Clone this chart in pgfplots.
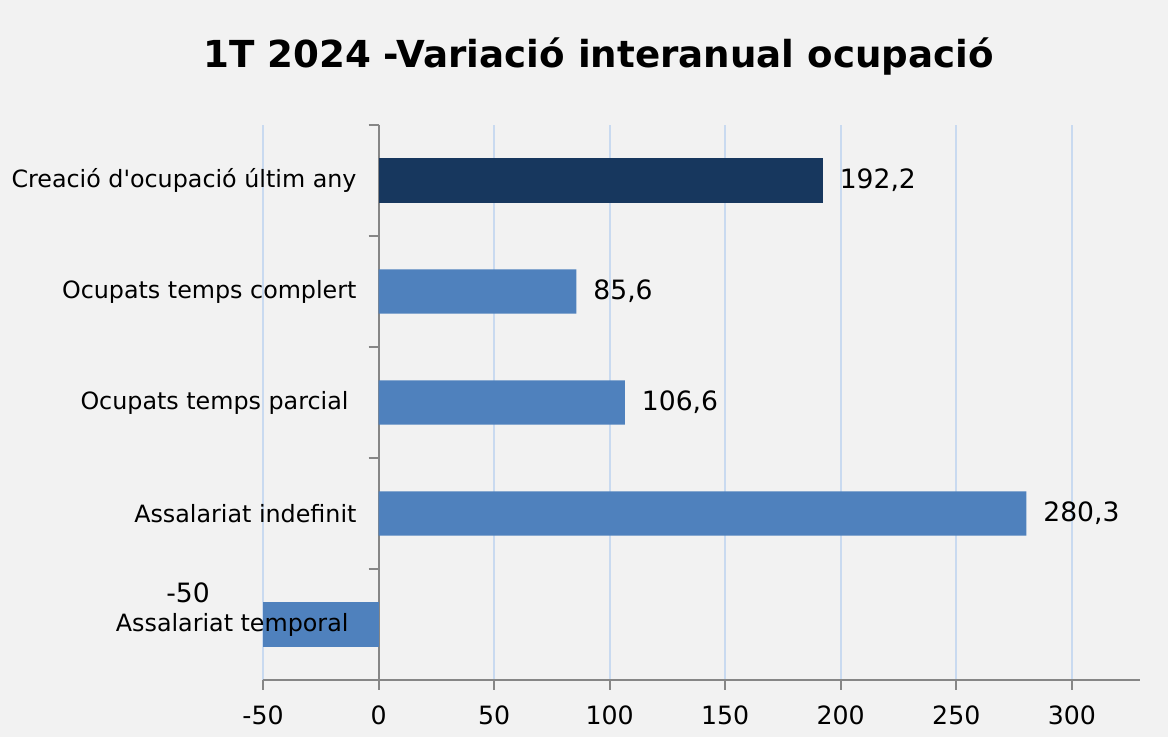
\documentclass[border=0pt]{standalone}
\usepackage{pgfplots}
\pgfplotsset{compat=1.18}
\usepackage{fontspec}
\setmainfont{DejaVu Sans}
\definecolor{bg}{HTML}{F2F2F2}
\definecolor{navy}{HTML}{17375E}
\definecolor{steel}{HTML}{4F81BD}
\definecolor{gridc}{HTML}{C9DAF0}
\definecolor{axc}{HTML}{868686}
\begin{document}
\begin{tikzpicture}
\fill[bg, use as bounding box] (0pt,0pt) rectangle (584pt,368.5pt);
\node[anchor=base, font=\bfseries\fontsize{18.6}{22}\selectfont] at (299.25pt,334.5pt) {1T 2024 -Variació interanual ocupació};
\begin{axis}[
  at={(131.5pt,28.5pt)}, anchor=south west,
  width=438.5pt, height=277.5pt, scale only axis, clip=false,
  xmin=-50, xmax=329.5, ymin=-0.5, ymax=4.5,
  axis x line*=bottom, axis y line*=middle,
  hide obscured x ticks=false, hide obscured y ticks=false,
  xbar, bar width=0.4, bar shift=0pt,
  xtick={-50,0,50,100,150,200,250,300},
  xmajorgrids, major grid style={gridc, line width=1pt},
  ytick={-0.5,0.5,1.5,2.5,3.5,4.5}, yticklabels={},
  extra y ticks={1,2,3,4},
  extra y tick labels={Assalariat indefinit,Ocupats temps parcial\kern4pt,Ocupats temps complert,Creació d\textquotesingle ocupació últim any},
  extra y tick style={major tick length=0pt, grid=none},
  tick align=outside, major tick length=5pt,
  axis line style={axc, line width=1pt},
  every tick/.style={axc, line width=1pt},
  x tick label style={font=\fontsize{12.6}{15}\selectfont, yshift=-4.5pt},
  y tick label style={font=\fontsize{11.9}{14}\selectfont, xshift=-7.5pt},
  /pgf/number format/assume math mode=true,
  /pgf/number format/use comma,
  point meta=x,
]
\addplot[fill=navy, draw=none, nodes near coords,
  every node near coord/.append style={font=\fontsize{13.3}{15}\selectfont, text=black, anchor=west, xshift=5pt},
  /pgf/number format/.cd, fixed, precision=1, use comma]
  coordinates {(192.2,4)};
\addplot[fill=steel, draw=none, nodes near coords,
  every node near coord/.append style={font=\fontsize{13.3}{15}\selectfont, text=black, anchor=west, xshift=5pt},
  /pgf/number format/.cd, fixed, precision=1, use comma]
  coordinates {(85.6,3) (106.6,2) (280.3,1)};
\addplot[fill=steel, draw=none, nodes near coords,
  every node near coord/.append style={font=\fontsize{13.3}{15}\selectfont, text=black, anchor=center, xshift=-37.5pt, yshift=16pt},
  /pgf/number format/.cd, fixed, precision=1, use comma]
  coordinates {(-50,0)};
\node[anchor=east, font=\fontsize{11.9}{14}\selectfont, xshift=-7.5pt] at (axis cs:0,0) {Assalariat temporal\kern4pt};
\end{axis}
\end{tikzpicture}
\end{document}
